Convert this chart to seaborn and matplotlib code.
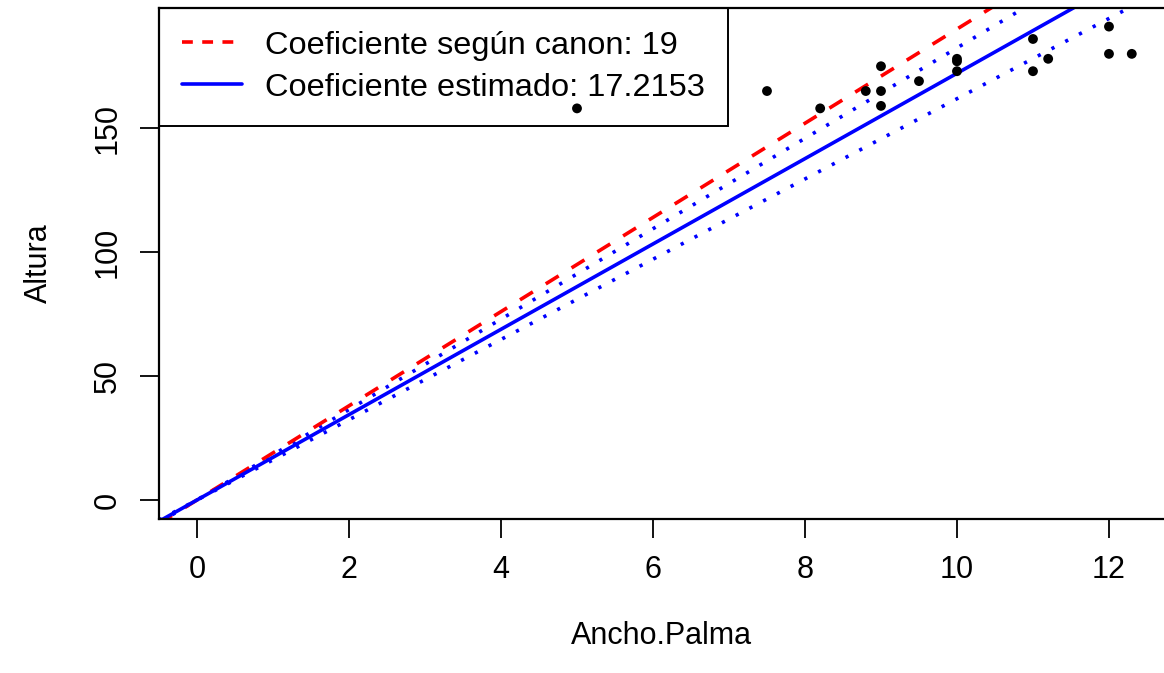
import numpy as np
import pandas as pd
import matplotlib
matplotlib.use("Agg")
import matplotlib.pyplot as plt
import seaborn as sns
from matplotlib.lines import Line2D

# Data
ancho_palma = [5.0, 7.5, 8.2, 8.8, 9.0, 9.0, 9.0, 9.5, 10.0, 10.0, 10.0, 11.0, 11.0, 11.2, 12.0, 12.0, 12.3]
altura      = [158, 165, 158, 165, 175, 165, 159, 169, 178, 177, 173, 186, 173, 178, 191, 180, 180]

coef_canon = 19.0
coef_estimado = 17.2153
coef_inferior = 16.19
coef_superior = 18.24

label_canon = "Coeficiente según canon: 19"
label_est = "Coeficiente estimado: 17.2153"

x_ticks = [0, 2, 4, 6, 8, 10, 12]
y_ticks = [0, 50, 100, 150]

sns.set_style("white")
plt.rcParams['font.family'] = ['Liberation Sans', 'DejaVu Sans']
plt.rcParams['text.color'] = 'black'
plt.rcParams['axes.labelcolor'] = 'black'
plt.rcParams['xtick.color'] = 'black'
plt.rcParams['ytick.color'] = 'black'

fig = plt.figure(figsize=(11.64, 6.73), dpi=100)
ax = fig.add_axes([159/1164, 1 - 519/673, 1 - 159/1164, (519 - 8)/673])

xlim = (-0.5, 12.724)
ylim = (-7.67, 198.5)

xs = np.linspace(xlim[0], xlim[1], 200)
lines = pd.DataFrame({
    "x": xs,
    "canon": coef_canon * xs,
    "est": coef_estimado * xs,
    "lo": coef_inferior * xs,
    "hi": coef_superior * xs,
})

LW = 2.6
dot_style = (0, (0.9, 3.4))
sns.lineplot(data=lines, x="x", y="lo", ax=ax, color="#0000FF", lw=LW,
             linestyle=dot_style, label="_nolegend_")
sns.lineplot(data=lines, x="x", y="hi", ax=ax, color="#0000FF", lw=LW,
             linestyle=dot_style, label="_nolegend_")
sns.lineplot(data=lines, x="x", y="canon", ax=ax, color="#FF0000", lw=LW,
             linestyle=(0, (4.2, 4.2)), label="_nolegend_")
sns.lineplot(data=lines, x="x", y="est", ax=ax, color="#0000FF", lw=LW,
             label="_nolegend_")

pts = pd.DataFrame({"Ancho.Palma": ancho_palma, "Altura": altura})
sns.scatterplot(data=pts, x="Ancho.Palma", y="Altura", ax=ax, color="black",
                s=50, edgecolor="none", zorder=12)

ax.set_xlim(*xlim)
ax.set_ylim(*ylim)
ax.set_xticks(x_ticks)
ax.set_yticks(y_ticks)
ax.set_xticklabels([str(t) for t in x_ticks], fontsize=22)
ax.set_yticklabels([str(t) for t in y_ticks], fontsize=22, rotation=90, va="center")
ax.tick_params(axis="both", direction="out", length=14, width=1.3, color="black",
               labelcolor="black", bottom=True, left=True, pad=12)
ax.set_xlabel("Ancho.Palma", fontsize=22, labelpad=26, color="black")
ax.set_ylabel("Altura", fontsize=22, labelpad=28, color="black")

for side in ["left", "bottom", "top"]:
    ax.spines[side].set_visible(True)
    ax.spines[side].set_color("black")
    ax.spines[side].set_linewidth(1.6)
ax.spines["right"].set_visible(False)

handles = [
    Line2D([], [], color="#FF0000", lw=LW, linestyle=(0, (3.0, 2.6))),
    Line2D([], [], color="#0000FF", lw=LW),
]
leg = ax.legend(handles, [label_canon, label_est], loc="upper left",
                bbox_to_anchor=(0, 1), borderaxespad=0, fontsize=23.4,
                frameon=True, fancybox=False, framealpha=1, edgecolor="black",
                handlelength=1.85, handletextpad=0.72, borderpad=0.7,
                labelspacing=0.37)
leg.get_frame().set_facecolor("none")
leg.get_frame().set_edgecolor("black")
leg.get_frame().set_linewidth(1.4)
for t in leg.get_texts():
    t.set_color("black")
leg.set_zorder(10)

fig.savefig("out.png", dpi=100)
